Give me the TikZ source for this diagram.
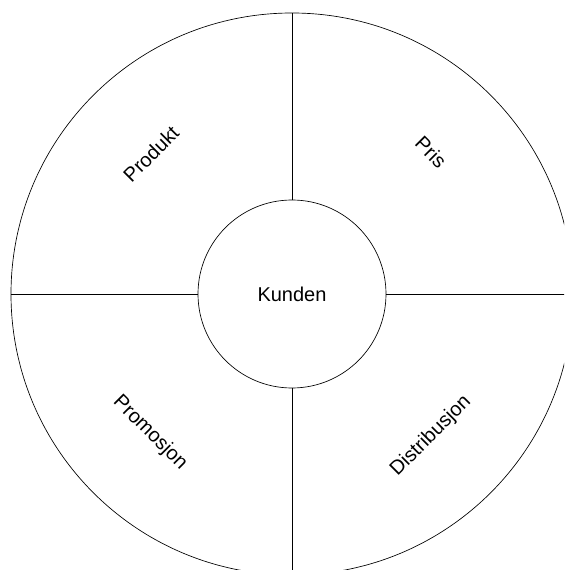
\documentclass[tikz,border=0pt]{standalone}
\usepackage{fontspec}
\setmainfont{Liberation Sans}
\tikzset{
  ring/.style={draw,circle,inner sep=0pt,line width=0.5pt},
  felt/.style={font=\fontsize{15}{17}\selectfont},
  skille/.style={line width=0.7pt}
}
\begin{document}
\begin{tikzpicture}[x=0.75pt,y=0.75pt]
\useasboundingbox (-292,-276) rectangle (272,294);
\clip (-292,-276) rectangle (272,294);
% ytre og indre sirkel
\node[ring,minimum size=421.5pt] (marked) at (0,0) {};
\node[ring,minimum size=141pt,felt] (kunde) at (0,0) {Kunden};
% skillelinjer
\draw[skille] (kunde.north) -- (marked.north);
\draw[skille] (kunde.south) -- (marked.south);
\draw[skille] (kunde.west) -- (marked.west);
\draw[skille] (kunde.east) -- (marked.east);
% de fire P-ene
\node[felt,rotate=45] (produkt) at (-141,140) {Produkt};
\node[felt,rotate=-45] (pris) at (139,142) {Pris};
\node[felt,rotate=-45] (promosjon) at (-142,-139) {Promosjon};
\node[felt,rotate=45] (distribusjon) at (139,-142) {Distribusjon};
\end{tikzpicture}
\end{document}
